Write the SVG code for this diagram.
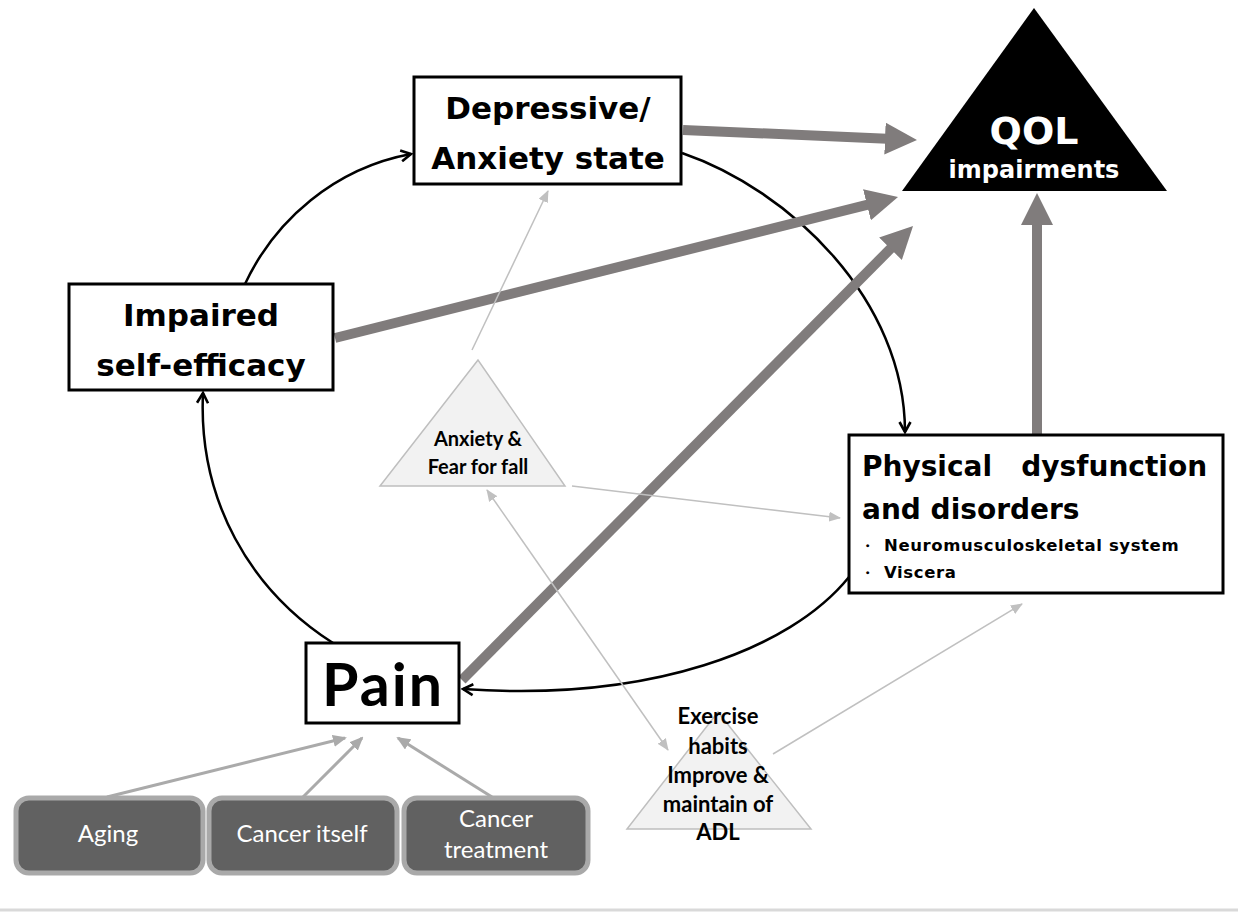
<svg xmlns="http://www.w3.org/2000/svg" width="1238" height="913" viewBox="0 0 1238 913">
<style>
.box{fill:#fff;stroke:#000;stroke-width:3}
.bt{font-family:"DejaVu Sans",Verdana,sans-serif;font-weight:bold;fill:#000;text-anchor:middle}
.ct{font-family:Lato,"Open Sans",sans-serif;font-weight:bold;fill:#000;text-anchor:middle}
.src{fill:#616161;stroke:#a9a9a9;stroke-width:5}
.st{font-family:Lato,"Open Sans",sans-serif;fill:#fff;text-anchor:middle;font-size:24px}
.tri{fill:#f2f2f2;stroke:#bfbfbf;stroke-width:1.5}
.thick{stroke:#807c7c;stroke-width:10;fill:none;marker-end:url(#hthick)}
.arc{stroke:#000;stroke-width:2.5;fill:none;marker-end:url(#hblk)}
.thin{stroke:#c0c0c0;stroke-width:1.5;fill:none;marker-end:url(#hthin)}
.mid{stroke:#aaaaaa;stroke-width:3;fill:none;marker-end:url(#hmid)}
</style>
<defs>
<marker id="hthick" viewBox="0 0 32 32" refX="2" refY="16" markerWidth="32" markerHeight="32" markerUnits="userSpaceOnUse" orient="auto"><path d="M0,0 L32,16 L0,32 Z" fill="#807c7c"/></marker>
<marker id="hblk" viewBox="0 0 14 14" refX="12" refY="7" markerWidth="14" markerHeight="14" markerUnits="userSpaceOnUse" orient="auto"><path d="M2,1.5 L12,7 L2,12.5" fill="none" stroke="#000" stroke-width="2.6"/></marker>
<marker id="hthin" viewBox="0 0 12 10" refX="11" refY="5" markerWidth="12" markerHeight="10" markerUnits="userSpaceOnUse" orient="auto"><path d="M0,0 L12,5 L0,10 Z" fill="#c0c0c0"/></marker>
<marker id="hthinS" viewBox="0 0 12 10" refX="11" refY="5" markerWidth="12" markerHeight="10" markerUnits="userSpaceOnUse" orient="auto-start-reverse"><path d="M0,0 L12,5 L0,10 Z" fill="#c0c0c0"/></marker>
<marker id="hmid" viewBox="0 0 14 12" refX="12" refY="6" markerWidth="14" markerHeight="12" markerUnits="userSpaceOnUse" orient="auto"><path d="M0,0 L14,6 L0,12 Z" fill="#aaaaaa"/></marker>
</defs>

<g id="connectors">
<path class="arc" d="M245,284 C275,220 335,168 411,154"/>
<path class="arc" d="M682,153 C790,190 905,300 905,432"/>
<path class="arc" d="M849,577 C790,650 650,702 463,689"/>
<path class="arc" d="M333,643 C250,590 198,500 203,393"/>
<line class="thick" x1="683" y1="130" x2="887" y2="138.7"/>
<line class="thick" x1="335" y1="338" x2="868.9" y2="204.3"/>
<line class="thick" x1="462" y1="680" x2="891.9" y2="247.3"/>
<line class="thick" x1="1037" y1="434" x2="1037" y2="223"/>
<line class="thin" x1="472" y1="350" x2="548" y2="191"/>
<line class="thin" x1="572" y1="486" x2="840" y2="518"/>
<line class="thin" x1="487" y1="490" x2="668" y2="750" style="marker-start:url(#hthinS)"/>
<line class="thin" x1="773" y1="754" x2="1022" y2="604"/>
<line class="mid" x1="107" y1="797" x2="345" y2="738"/>
<line class="mid" x1="303" y1="797" x2="362" y2="738"/>
<line class="mid" x1="492" y1="797" x2="398" y2="738"/>
</g>

<g id="depressive">
<rect class="box" x="414" y="77" width="267" height="107"/>
<text class="bt" x="548" y="119" font-size="31">Depressive/</text>
<text class="bt" x="548" y="169" font-size="31">Anxiety state</text>
</g>

<g id="qol">
<polygon points="1034,8 902,191 1167,191" fill="#000"/>
<text class="bt" x="1034" y="144" font-size="38" style="fill:#fff">QOL</text>
<text class="bt" x="1034" y="178" font-size="24" style="fill:#fff">impairments</text>
</g>

<g id="self-efficacy">
<rect class="box" x="69" y="284" width="264" height="106"/>
<text class="bt" x="201" y="326" font-size="31">Impaired</text>
<text class="bt" x="201" y="376" font-size="31">self-efficacy</text>
</g>

<g id="physical">
<rect class="box" x="849" y="435" width="374" height="158"/>
<text class="bt" x="862" y="476" font-size="28" style="text-anchor:start" xml:space="preserve">Physical   dysfunction</text>
<text class="bt" x="862" y="519" font-size="28" style="text-anchor:start">and disorders</text>
<text class="bt" x="860" y="551" font-size="15" style="text-anchor:start">・</text>
<text class="bt" x="884" y="551" font-size="16.5" letter-spacing="0.6" style="text-anchor:start">Neuromusculoskeletal system</text>
<text class="bt" x="860" y="578" font-size="15" style="text-anchor:start">・</text>
<text class="bt" x="884" y="578" font-size="16.5" letter-spacing="0.6" style="text-anchor:start">Viscera</text>
</g>

<g id="pain">
<rect class="box" x="306" y="643" width="153" height="80"/>
<text class="ct" x="383" y="706" font-size="59" letter-spacing="2">Pain</text>
</g>

<g id="anxiety-fear">
<polygon class="tri" points="478,360 380,486 565,486"/>
<text class="ct" x="478" y="446" font-size="20">Anxiety &amp;</text>
<text class="ct" x="478" y="474" font-size="20">Fear for fall</text>
</g>

<g id="exercise">
<polygon class="tri" points="718,712 627,829 811,829"/>
<text class="ct" x="718" y="724" font-size="22">Exercise</text>
<text class="ct" x="718" y="754" font-size="22">habits</text>
<text class="ct" x="718" y="783" font-size="22">Improve &amp;</text>
<text class="ct" x="718" y="812" font-size="22">maintain of</text>
<text class="ct" x="718" y="840" font-size="22">ADL</text>
</g>

<g id="aging">
<rect class="src" x="16" y="798" width="187" height="75" rx="13"/>
<text class="st" x="108" y="842">Aging</text>
</g>
<g id="cancer-itself">
<rect class="src" x="209" y="798" width="188" height="75" rx="13"/>
<text class="st" x="302" y="842">Cancer itself</text>
</g>
<g id="cancer-treatment">
<rect class="src" x="404" y="798" width="184" height="75" rx="13"/>
<text class="st" x="496" y="827">Cancer</text>
<text class="st" x="496" y="858">treatment</text>
</g>

<line x1="0" y1="910" x2="1238" y2="910" stroke="#d9d9d9" stroke-width="3"/>
</svg>
